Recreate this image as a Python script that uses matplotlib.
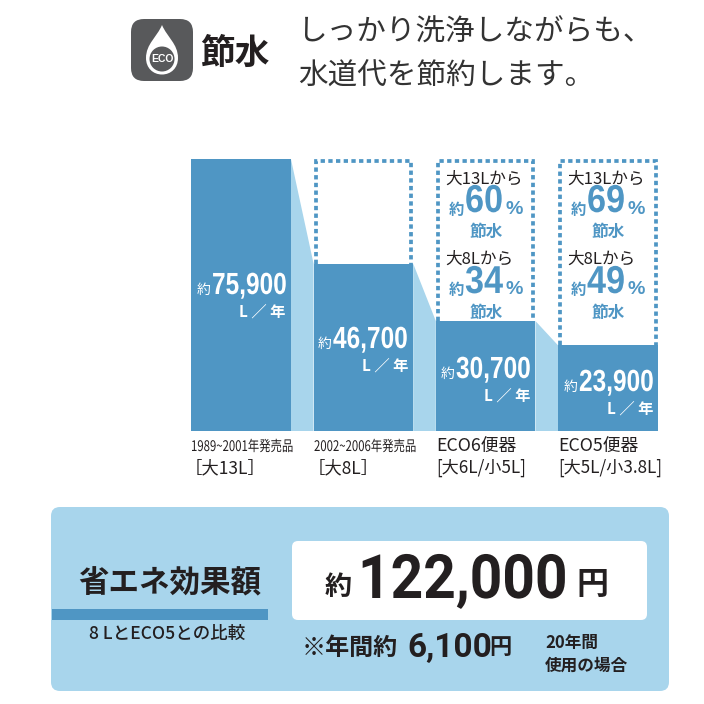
import matplotlib
matplotlib.use("Agg")
import matplotlib.pyplot as plt
from matplotlib.patches import FancyBboxPatch, Rectangle, PathPatch, Circle, Polygon
from matplotlib.patheffects import AbstractPathEffect
from matplotlib.path import Path
from matplotlib.transforms import Affine2D

JP = ['Noto Sans CJK JP', 'DejaVu Sans']
LAT = ['Liberation Sans']
plt.rcParams['font.family'] = JP

# data
litres = [75900, 46700, 30700, 23900]
litre_labels = ['75,900', '46,700', '30,700', '23,900']
cat_top = ['1989~2001年発売品', '2002~2006年発売品', 'ECO6便器', 'ECO5便器']
cat_bottom = ['［大13L］', '［大8L］', '[大6L/小5L]', '[大5L/小3.8L]']
save_13 = ['60', '69']
save_8 = ['34', '49']

BLUE = '#4f96c4'
LIGHT = '#a8d5ec'
DARK = '#231f20'
ICON = '#58595b'
bar_w = 0.815


# squeezes a text sideways, the font files have no condensed cut
class Squeeze(AbstractPathEffect):
    def __init__(self, sx):
        super().__init__()
        self.sx = sx

    def draw_path(self, renderer, gc, tpath, affine, rgbFace=None):
        renderer.draw_path(gc, tpath, Affine2D().scale(self.sx, 1) + affine, rgbFace)


fig = plt.figure(figsize=(7.04, 7.04), dpi=100)

# bars on a real value axis, pixel box 180..669 / 159..431
ax = fig.add_axes([180 / 704, 1 - 431 / 704, 489 / 704, 272 / 704])
ax.set_xlim(-0.5, 3.5)
ax.set_ylim(0, max(litres))
ax.axis('off')

for i in range(len(litres) - 1):
    x0 = i + bar_w / 2
    x1 = i + 1 - bar_w / 2
    ax.add_patch(Polygon([(x0, 0), (x0, litres[i]), (x1, litres[i + 1]), (x1, 0)],
                         closed=True, fc=LIGHT, ec='none', zorder=1))
ax.bar(range(4), litres, width=bar_w, color=BLUE, zorder=2)
top = max(litres) - 560
for i in range(1, 4):
    l = i - bar_w / 2 + 0.016
    r = i + bar_w / 2 - 0.016
    ax.plot([l, l, r, r], [litres[i], top, top, litres[i]], color=BLUE, lw=2.7, zorder=3,
            linestyle=(0, (1.15, 0.9)), dash_capstyle='butt', dash_joinstyle='miter', clip_on=False)

# overlay in pixel coordinates for the text and panels
ov = fig.add_axes([0, 0, 1, 1])
ov.set_xlim(0, 704)
ov.set_ylim(704, 0)
ov.axis('off')
ov.patch.set_alpha(0)


def txt(x, y, s, size, color=DARK, weight='normal', ha='center', family=None, sx=None):
    t = ov.text(x, y, s, fontsize=size, color=color, fontweight=weight, ha=ha, va='center',
                family=family if family else JP, zorder=10)
    if sx:
        t.set_path_effects([Squeeze(sx)])
    return t


# header icon
ov.add_patch(FancyBboxPatch((140, 28), 44, 44, boxstyle='round,pad=9,rounding_size=13', fc=ICON, ec='none'))
drop = Path([(162, 25), (157, 37), (146, 44), (146, 58), (146, 68), (153, 74.5), (162, 74.5),
             (171, 74.5), (178, 68), (178, 58), (178, 44), (167, 37), (162, 25)],
            [Path.MOVETO] + [Path.CURVE4] * 12)
ov.add_patch(PathPatch(drop, fc='white', ec='none'))
ov.add_patch(Circle((162, 59), 12.5, fc=ICON, ec='none'))
txt(162, 59.5, 'ECO', 7.5, color='white', weight='bold', family=LAT)
txt(235, 53, '節水', 25, weight='bold')
txt(298, 32, 'しっかり洗浄しながらも、', 21.3, ha='left', color='#333333')
txt(298, 76, '水道代を節約します。', 21.3, ha='left', color='#333333')

# values in the bars
num_left = [212, 333, 456, 579]
num_y = [286, 340, 370, 383]
unit_right = [285, 408, 530, 653]
for i in range(4):
    txt(num_left[i], num_y[i], litre_labels[i], 22, color='white', weight='bold', ha='left', family=LAT, sx=0.8)
    txt(num_left[i] - 1, num_y[i] + 4, '約', 10, color='white', ha='right')
    txt(unit_right[i], num_y[i] + 26, 'L ／ 年', 11, color='white', ha='right', weight='bold')

# saving labels in the dashed boxes
box_x = [445, 567]
for j in range(2):
    x = box_x[j]
    txt(x, 179, '大13Lから', 12, ha='left')
    txt(x + 19, 210, '約', 11, color=BLUE, weight='bold', ha='right')
    txt(x + 20, 202, save_13[j], 28, color=BLUE, weight='bold', ha='left', family=LAT, sx=0.88)
    txt(x + 61, 209, '%', 14, color=BLUE, ha='left', family=LAT, weight='bold')
    txt(x + 41, 232, '節水', 12, color=BLUE, weight='bold')
    txt(x, 259, '大8Lから', 12, ha='left')
    txt(x + 19, 290, '約', 11, color=BLUE, weight='bold', ha='right')
    txt(x + 20, 283, save_8[j], 28, color=BLUE, weight='bold', ha='left', family=LAT, sx=0.88)
    txt(x + 61, 289, '%', 14, color=BLUE, ha='left', family=LAT, weight='bold')
    txt(x + 41, 313, '節水', 12, color=BLUE, weight='bold')

# category labels
cat_x = [191, 314, 436, 558]
for i in range(4):
    if i < 2:
        txt(cat_x[i], 447, cat_top[i], 10.5, ha='left', sx=0.78)
        txt(cat_x[i] - 6, 468, cat_bottom[i], 12.5, ha='left')
    else:
        txt(cat_x[i], 447, cat_top[i], 12.8, ha='left')
        txt(cat_x[i], 468, cat_bottom[i], 12.3, ha='left')

# bottom panel
ov.add_patch(FancyBboxPatch((59, 515), 602, 168, boxstyle='round,pad=8,rounding_size=9', fc=LIGHT, ec='none'))
ov.add_patch(FancyBboxPatch((297, 546), 345, 69, boxstyle='round,pad=5,rounding_size=6', fc='white', ec='none'))
ov.add_patch(Rectangle((52, 609), 216, 11, fc=BLUE, ec='none'))
txt(170, 583, '省エネ効果額', 22, weight='bold')
txt(167, 634, '8 LとECO5との比較', 12.6, weight='medium')
txt(338, 587, '約', 19.5, weight='bold')
txt(358, 581, '122,000', 44, weight='bold', ha='left', family=['Roboto'], sx=0.93)
txt(592, 585, '円', 23, weight='bold')
txt(302, 648, '※年間約', 17.3, ha='left', weight='bold')
txt(407, 648, '6,100', 24, ha='left', weight='bold', family=['Roboto'])
txt(489, 648, '円', 16, ha='left', weight='bold')
txt(545, 643, '20年間', 12, ha='left', weight='bold')
txt(545, 666, '使用の場合', 12, ha='left', weight='bold')

fig.savefig('out.png', dpi=100)
